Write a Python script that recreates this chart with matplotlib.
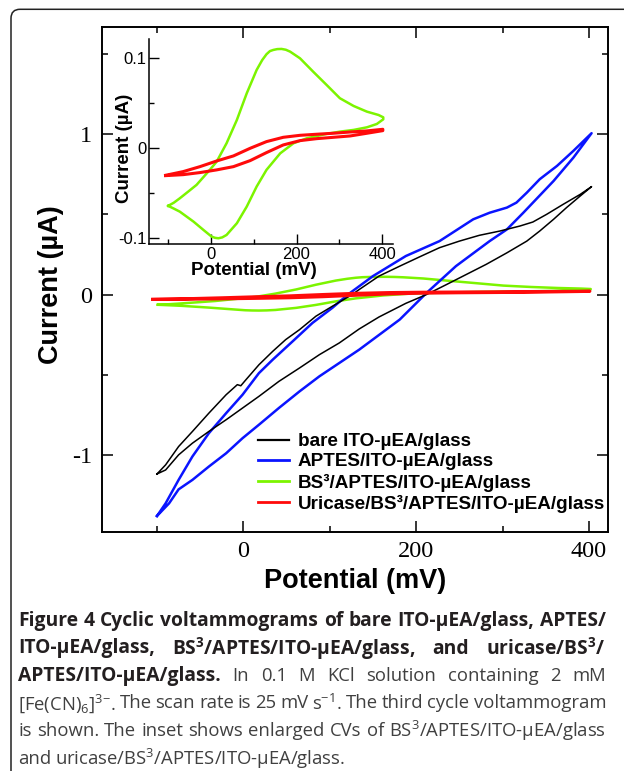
import matplotlib
matplotlib.use('Agg')
import matplotlib.pyplot as plt
from matplotlib.patches import FancyBboxPatch
from matplotlib.transforms import IdentityTransform

# cyclic voltammograms, potential in mV, current in uA
bare_mv = [-100, -90, -75, -59, -40, -20, -7, -3, 3, 18, 34, 49, 65, 84, 103, 115, 126, 134,
           157, 181, 204, 227, 250, 273, 297, 320, 335, 351, 370, 390, 403,
           390, 374, 359, 343, 328, 305, 281, 258, 235, 212, 188, 157, 134, 111, 88, 65,
           41, 18, -1, -20, -40, -59, -75, -90, -100]
bare_ua = [-1.119, -1.062, -0.948, -0.854, -0.74, -0.625, -0.562, -0.569, -0.531, -0.438,
           -0.354, -0.281, -0.219, -0.135, -0.073, -0.035, 0.0, 0.031,
           0.115, 0.177, 0.235, 0.292, 0.333, 0.369, 0.396, 0.427, 0.452, 0.5, 0.562, 0.625, 0.673,
           0.615, 0.542, 0.469, 0.396, 0.333, 0.26, 0.188, 0.125, 0.062, 0.0, -0.055, -0.14,
           -0.215, -0.302, -0.375, -0.458, -0.542, -0.635, -0.708, -0.781, -0.854, -0.927,
           -1.0, -1.094, -1.119]

aptes_mv = [-100, -90, -75, -59, -40, -20, -1, 18, 34, 57, 80, 103, 121, 150, 188, 227, 266,
            285, 305, 316, 328, 343, 363, 382, 403,
            382, 359, 324, 305, 285, 246, 212, 181, 134, 111, 88, 65, 41, 18, -1, -20, -40,
            -59, -75, -86, -100]
aptes_ua = [-1.381, -1.302, -1.156, -1.01, -0.865, -0.74, -0.625, -0.49, -0.406, -0.292, -0.177,
            -0.083, 0.0, 0.115, 0.24, 0.333, 0.469, 0.51, 0.542, 0.573, 0.635, 0.719, 0.802,
            0.896, 1.006,
            0.854, 0.708, 0.51, 0.406, 0.333, 0.177, 0.01, -0.156, -0.344, -0.427, -0.51,
            -0.604, -0.708, -0.812, -0.896, -0.99, -1.073, -1.156, -1.215, -1.302, -1.381]

bs3_mv = [-99, -86, -72, -52, -33, -2, 14, 37, 61, 84, 107, 120, 130, 138, 146, 155, 165, 175,
          185, 208, 239, 270, 301, 333, 364, 391, 402, 402, 387, 364, 333, 301, 270, 224, 193,
          162, 130, 107, 84, 61, 37, 27, 18, 10, 2, -17, -40, -72, -86, -99]
bs3_ua = [-0.064, -0.0605, -0.0556, -0.048, -0.0407, -0.024, -0.0148, 0.0056, 0.0315, 0.0611,
          0.087, 0.098, 0.1045, 0.108, 0.1093, 0.1102, 0.1104, 0.1095, 0.1074, 0.1, 0.085,
          0.0704, 0.0556, 0.047, 0.0407, 0.037, 0.0344, 0.0322, 0.027, 0.0233, 0.0204, 0.0185,
          0.016, 0.0111, 0.0056, -0.0056, -0.024, -0.0426, -0.0648, -0.0833, -0.0963, -0.099,
          -0.1, -0.0995, -0.0981, -0.0907, -0.0815, -0.0704, -0.067, -0.064]

uric_mv = [-105, -64, -25, 14, 53, 92, 130, 169, 208, 247, 286, 325, 364, 401,
           401, 364, 325, 286, 247, 208, 169, 130, 92, 53, 14, -25, -64, -105]
uric_ua = [-0.030, -0.0259, -0.0204, -0.0141, -0.0085, 0.0, 0.0074, 0.0122, 0.0144, 0.0156,
           0.0167, 0.0181, 0.0193, 0.0211,
           0.0196, 0.0167, 0.0137, 0.0122, 0.0107, 0.0085, 0.0037, -0.0048, -0.0137, -0.0204,
           -0.024, -0.027, -0.0293, -0.0304]

labels = ['bare ITO-µEA/glass', 'APTES/ITO-µEA/glass', 'BS³/APTES/ITO-µEA/glass',
          'Uricase/BS³/APTES/ITO-µEA/glass']
colors = ['black', '#0a14ff', '#7cf400', '#ff0a0a']

# caption, one entry per printed line: (text, bold) pieces
caption = [
    [('Figure 4 Cyclic voltammograms of bare ITO-µEA/glass, APTES/', True)],
    [('ITO-µEA/glass, BS$^3$/APTES/ITO-µEA/glass, and uricase/BS$^3$/', True)],
    [('APTES/ITO-µEA/glass.', True), ('In 0.1 M KCl solution containing 2 mM', False)],
    [('[Fe(CN)$_6$]$^{3{-}}$. The scan rate is 25 mV s$^{-1}$. The third cycle voltammogram', False)],
    [('is shown. The inset shows enlarged CVs of BS$^3$/APTES/ITO-µEA/glass', False)],
    [('and uricase/BS$^3$/APTES/ITO-µEA/glass.', False)],
]

plt.rcParams['mathtext.default'] = 'regular'
plt.rcParams['axes.unicode_minus'] = False

W, H = 624.0, 771.0
fig = plt.figure(figsize=(W / 100, H / 100), dpi=100)


def fx(px):
    return px / W


def fy(py):
    return 1 - py / H


# main axes
ax = fig.add_axes([fx(101.7), fy(531.7), fx(608) - fx(101.7), fy(26.7) - fy(531.7)])
ax.plot(bs3_mv, bs3_ua, color=colors[2], lw=1.8, zorder=2)
ax.plot(aptes_mv, aptes_ua, color=colors[1], lw=1.8, zorder=3)
ax.plot(bare_mv, bare_ua, color=colors[0], lw=1.1, zorder=4)
ax.plot(uric_mv, uric_ua, color=colors[3], lw=2.2, zorder=5)
ax.set_xlim(-164, 422)
ax.set_ylim(-1.479, 1.67)
ax.set_xticks([0, 200, 400], ['0', '200', '400'])
ax.set_xticks([-100, 100, 300], minor=True)
ax.set_yticks([-1, 0, 1], ['-1', '0', '1'])
ax.set_yticks([-0.5, 0.5, 1.5], minor=True)
ax.tick_params(which='both', direction='in', top=True, right=True, width=1.1)
ax.tick_params(which='major', length=8, labelsize=17.5, pad=7)
ax.tick_params(which='minor', length=4)
for lbl in ax.get_xticklabels() + ax.get_yticklabels():
    lbl.set_fontfamily('Liberation Serif')
for sp in ax.spines.values():
    sp.set_linewidth(1.4)
ax.set_xlabel('Potential (mV)', fontsize=19.5, fontweight='bold', family='Liberation Sans')
ax.set_ylabel('Current (µA)', fontsize=19.5, fontweight='bold', family='Liberation Sans')
ax.xaxis.label.set_va('center')
ax.yaxis.label.set_va('center')
ax.xaxis.set_label_coords(0.501, -0.097)
ax.yaxis.set_label_coords(-0.1, 0.4885)

handles = [plt.Line2D([], [], color=c, lw=2.0) for c in colors]
handles[0].set_linewidth(1.6)
ax.legend(handles, labels, loc='upper left', bbox_to_anchor=(fx(258.3), fy(433)),
          bbox_transform=fig.transFigure, frameon=False, borderpad=0, borderaxespad=0,
          handlelength=1.6, handletextpad=0.5, labelspacing=0.16,
          prop={'family': 'Liberation Sans', 'weight': 'bold', 'size': 13.6})

# inset
axi = fig.add_axes([fx(149.3), fy(244.3), fx(392.7) - fx(149.3), fy(39.3) - fy(244.3)])
axi.set_facecolor('none')
axi.plot(bs3_mv, bs3_ua, color=colors[2], lw=1.8)
axi.plot(uric_mv, uric_ua, color=colors[3], lw=2.2)
axi.set_xlim(-143, 424)
axi.set_ylim(-0.1067, 0.1211)
axi.spines['top'].set_visible(False)
axi.spines['right'].set_visible(False)
for sp in axi.spines.values():
    sp.set_linewidth(1.1)
axi.set_xticks([0, 200, 400], ['0', '200', '400'])
axi.set_xticks([-100, 100, 300], minor=True)
axi.set_yticks([-0.1, 0, 0.1], ['-0.1', '0', '0.1'])
axi.set_yticks([-0.05, 0.05], minor=True)
axi.tick_params(which='both', direction='in', width=1.0)
axi.tick_params(which='major', length=7, labelsize=12, pad=2)
axi.tick_params(which='minor', length=3.5)
for lbl in axi.get_xticklabels() + axi.get_yticklabels():
    lbl.set_fontfamily('Liberation Sans')
axi.set_xlabel('Potential (mV)', fontsize=13.5, fontweight='bold', family='Liberation Sans')
axi.set_ylabel('Current (µA)', fontsize=13.5, fontweight='bold', family='Liberation Sans')
axi.xaxis.label.set_va('center')
axi.yaxis.label.set_va('center')
axi.xaxis.set_label_coords(0.429, -0.13)
axi.yaxis.set_label_coords(-0.1, 0.468)

# caption frame
frame = FancyBboxPatch((11, -40), 700, H - 9.3 + 40, boxstyle='round,pad=0,rounding_size=9',
                       transform=IdentityTransform(), fill=False, lw=1.1, ec='#222222')
fig.add_artist(frame)

# caption text, justified between x0 and x1 except for the last line
bold_fs, plain_fs = 13.9, 13.3
x0, x1 = 18.0, 606.0
line_y = [621, 648.5, 676, 703.5, 731, 758.5]
renderer = fig.canvas.get_renderer()
for i, pieces in enumerate(caption):
    words = []
    for text, bold in pieces:
        for w in text.split(' '):
            t = fig.text(0, fy(line_y[i]), w, family='Open Sans',
                         fontsize=bold_fs if bold else plain_fs,
                         fontweight='bold' if bold else 'normal',
                         color='#231f20' if bold else '#404040', va='center')
            words.append((t, t.get_window_extent(renderer).width))
    total = sum(wd for _, wd in words)
    space = 4.0
    if i < len(caption) - 1:
        space = (x1 - x0 - total) / (len(words) - 1)
    x = x0
    for t, wd in words:
        t.set_x(fx(x))
        x += wd + space

fig.savefig('out.png', dpi=100)
